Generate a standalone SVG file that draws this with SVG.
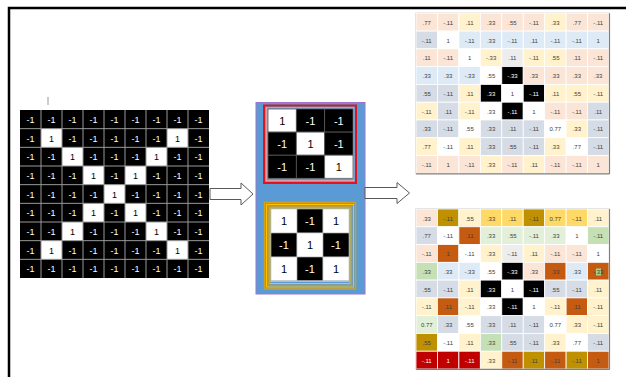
<svg xmlns="http://www.w3.org/2000/svg" width="626" height="377" viewBox="0 0 626 377">
<style>
text{font-family:"Liberation Sans",Arial,sans-serif;text-anchor:middle}
.lt{font-size:9px;fill:#fff}
.lb{font-size:9px;fill:#000}
.kt{font-size:11px;fill:#fff}
.kb{font-size:11px;fill:#000}
.rt{font-size:6px;fill:#404040}
.rw{font-size:6px;fill:#fff}
.cells rect{stroke:#fff;stroke-width:0.8;height:17.78px;width:21.44px}
.p{fill:#fbe5d6}.y{fill:#fff2cc}.b{fill:#deebf7}.g{fill:#d6dce5}.w{fill:#fff}.k{fill:#000}.l{fill:#ededed}
.d{fill:#bf9000}.o{fill:#ffd966}.r{fill:#c55a11}.n{fill:#e2f0d9}.m{fill:#c5e0b4}.c{fill:#c00000}
.arrow{fill:#fff;stroke:#595959;stroke-width:1}
</style>
<defs>
<g id="cols">
</g>
</defs>
<g id="frame">
<polyline points="9,377 9,8 626,8" fill="none" stroke="#000" stroke-width="2.5"/>
<line x1="48" y1="97" x2="48" y2="105" stroke="#999" stroke-width="1"/>
</g>

<g id="input-grid">
<rect x="20" y="110" width="189" height="168" fill="#000"/>
<g fill="#fff">
<rect x="41" y="128.67" width="21" height="18.67"/><rect x="167" y="128.67" width="21" height="18.67"/>
<rect x="62" y="147.33" width="21" height="18.67"/><rect x="146" y="147.33" width="21" height="18.67"/>
<rect x="83" y="166" width="21" height="18.67"/><rect x="125" y="166" width="21" height="18.67"/>
<rect x="104" y="184.67" width="21" height="18.67"/>
<rect x="83" y="203.33" width="21" height="18.67"/><rect x="125" y="203.33" width="21" height="18.67"/>
<rect x="62" y="222" width="21" height="18.67"/><rect x="146" y="222" width="21" height="18.67"/>
<rect x="41" y="240.67" width="21" height="18.67"/><rect x="167" y="240.67" width="21" height="18.67"/>
</g>
<path d="M41,110V278M62,110V278M83,110V278M104,110V278M125,110V278M146,110V278M167,110V278M188,110V278M20,128.67H209M20,147.33H209M20,166H209M20,184.67H209M20,203.33H209M20,222H209M20,240.67H209M20,259.33H209" stroke="#999" stroke-width="1" fill="none"/>
<g class="lt">
<text x="30.5" y="123">-1</text><text x="51.5" y="123">-1</text><text x="72.5" y="123">-1</text><text x="93.5" y="123">-1</text><text x="114.5" y="123">-1</text><text x="135.5" y="123">-1</text><text x="156.5" y="123">-1</text><text x="177.5" y="123">-1</text><text x="198.5" y="123">-1</text>
<text x="30.5" y="141.67">-1</text><text x="72.5" y="141.67">-1</text><text x="93.5" y="141.67">-1</text><text x="114.5" y="141.67">-1</text><text x="135.5" y="141.67">-1</text><text x="156.5" y="141.67">-1</text><text x="198.5" y="141.67">-1</text>
<text x="30.5" y="160.33">-1</text><text x="51.5" y="160.33">-1</text><text x="93.5" y="160.33">-1</text><text x="114.5" y="160.33">-1</text><text x="135.5" y="160.33">-1</text><text x="177.5" y="160.33">-1</text><text x="198.5" y="160.33">-1</text>
<text x="30.5" y="179">-1</text><text x="51.5" y="179">-1</text><text x="72.5" y="179">-1</text><text x="114.5" y="179">-1</text><text x="156.5" y="179">-1</text><text x="177.5" y="179">-1</text><text x="198.5" y="179">-1</text>
<text x="30.5" y="197.67">-1</text><text x="51.5" y="197.67">-1</text><text x="72.5" y="197.67">-1</text><text x="93.5" y="197.67">-1</text><text x="135.5" y="197.67">-1</text><text x="156.5" y="197.67">-1</text><text x="177.5" y="197.67">-1</text><text x="198.5" y="197.67">-1</text>
<text x="30.5" y="216.33">-1</text><text x="51.5" y="216.33">-1</text><text x="72.5" y="216.33">-1</text><text x="114.5" y="216.33">-1</text><text x="156.5" y="216.33">-1</text><text x="177.5" y="216.33">-1</text><text x="198.5" y="216.33">-1</text>
<text x="30.5" y="235">-1</text><text x="51.5" y="235">-1</text><text x="93.5" y="235">-1</text><text x="114.5" y="235">-1</text><text x="135.5" y="235">-1</text><text x="177.5" y="235">-1</text><text x="198.5" y="235">-1</text>
<text x="30.5" y="253.67">-1</text><text x="72.5" y="253.67">-1</text><text x="93.5" y="253.67">-1</text><text x="114.5" y="253.67">-1</text><text x="135.5" y="253.67">-1</text><text x="156.5" y="253.67">-1</text><text x="198.5" y="253.67">-1</text>
<text x="30.5" y="272.33">-1</text><text x="51.5" y="272.33">-1</text><text x="72.5" y="272.33">-1</text><text x="93.5" y="272.33">-1</text><text x="114.5" y="272.33">-1</text><text x="135.5" y="272.33">-1</text><text x="156.5" y="272.33">-1</text><text x="177.5" y="272.33">-1</text><text x="198.5" y="272.33">-1</text>
</g>
<g class="lb">
<text x="51.5" y="141.67">1</text><text x="177.5" y="141.67">1</text>
<text x="72.5" y="160.33">1</text><text x="156.5" y="160.33">1</text>
<text x="93.5" y="179">1</text><text x="135.5" y="179">1</text>
<text x="114.5" y="197.67">1</text>
<text x="93.5" y="216.33">1</text><text x="135.5" y="216.33">1</text>
<text x="72.5" y="235">1</text><text x="156.5" y="235">1</text>
<text x="51.5" y="253.67">1</text><text x="177.5" y="253.67">1</text>
</g>
</g>

<g id="filters">
<rect x="256" y="102.5" width="109" height="191.5" fill="#5b9bd5" stroke="#9e74c8" stroke-width="1"/>
<g id="filter-1">
<rect x="264" y="105.5" width="92" height="77.5" fill="none" stroke="#e0141e" stroke-width="2"/>
<rect x="266.3" y="107.8" width="87.4" height="72.9" fill="none" stroke="#f4a0a8" stroke-width="1"/>
<rect x="267.5" y="109" width="85.5" height="70" fill="#9dc3e6"/>
<g stroke="#595959" stroke-width="0.8">
<rect x="268" y="109" width="28.33" height="23.1" fill="#fff"/><rect x="296.33" y="109" width="28.33" height="23.1" fill="#000"/><rect x="324.67" y="109" width="28.33" height="23.1" fill="#000"/>
<rect x="268" y="132.1" width="28.33" height="23.1" fill="#000"/><rect x="296.33" y="132.1" width="28.33" height="23.1" fill="#fff"/><rect x="324.67" y="132.1" width="28.33" height="23.1" fill="#000"/>
<rect x="268" y="155.2" width="28.33" height="23.1" fill="#000"/><rect x="296.33" y="155.2" width="28.33" height="23.1" fill="#000"/><rect x="324.67" y="155.2" width="28.33" height="23.1" fill="#fff"/>
</g>
<text class="kb" x="282.2" y="125">1</text><text class="kt" x="310.5" y="125">-1</text><text class="kt" x="338.8" y="125">-1</text>
<text class="kt" x="282.2" y="148.1">-1</text><text class="kb" x="310.5" y="148.1">1</text><text class="kt" x="338.8" y="148.1">-1</text>
<text class="kt" x="282.2" y="171.2">-1</text><text class="kt" x="310.5" y="171.2">-1</text><text class="kb" x="338.8" y="171.2">1</text>
</g>
<g id="filter-2">
<g fill="none" stroke-width="1">
<rect x="264.5" y="202.5" width="91" height="86.5" stroke="#d4a017" stroke-width="1.5"/>
<rect x="266.5" y="204.5" width="87" height="82.5" stroke="#ffc000"/>
<rect x="268.3" y="206.3" width="83.4" height="78.9" stroke="#d4a017"/>
<rect x="270" y="208" width="80" height="75.5" stroke="#ffc000"/>
</g>
<rect x="271" y="209" width="78" height="73" fill="#9dc3e6"/>
<g stroke="#bfbfbf" stroke-width="0.6">
<rect x="271" y="209" width="26" height="24" fill="#fff"/><rect x="297" y="209" width="26" height="24" fill="#000"/><rect x="323" y="209" width="26" height="24" fill="#fff"/>
<rect x="271" y="233" width="26" height="24" fill="#000"/><rect x="297" y="233" width="26" height="24" fill="#fff"/><rect x="323" y="233" width="26" height="24" fill="#000"/>
<rect x="271" y="257" width="26" height="23.5" fill="#fff"/><rect x="297" y="257" width="26" height="23.5" fill="#000"/><rect x="323" y="257" width="26" height="23.5" fill="#fff"/>
</g>
<text class="kb" x="284" y="225">1</text><text class="kt" x="310" y="225">-1</text><text class="kb" x="336" y="225">1</text>
<text class="kt" x="284" y="249">-1</text><text class="kb" x="310" y="249">1</text><text class="kt" x="336" y="249">-1</text>
<text class="kb" x="284" y="273">1</text><text class="kt" x="310" y="273">-1</text><text class="kb" x="336" y="273">1</text>
</g>
</g>

<g id="connectors">
<polygon class="arrow" points="210,188.5 241,188.5 241,183 253,194 241,205 241,199.5 210,199.5"/>
<polygon class="arrow" points="365,187.5 397,187.5 397,182.5 409.5,193 397,203.5 397,198.5 365,198.5"/>
</g>

<g id="feature-map-1">
<rect x="416" y="13.3" width="193" height="160" fill="#fff" stroke="#a6a6a6" stroke-width="1"/>
<g class="cells">
<g transform="translate(0,13.3)"><rect x="416" class="p"/><rect x="437.44" class="p"/><rect x="458.89" class="y"/><rect x="480.33" class="p"/><rect x="501.78" class="p"/><rect x="523.22" class="p"/><rect x="544.67" class="y"/><rect x="566.11" class="p"/><rect x="587.56" class="p"/></g>
<g transform="translate(0,31.08)"><rect x="416" class="g"/><rect x="437.44" class="w"/><rect x="458.89" class="b"/><rect x="480.33" class="b"/><rect x="501.78" class="b"/><rect x="523.22" class="b"/><rect x="544.67" class="b"/><rect x="566.11" class="b"/><rect x="587.56" class="b"/></g>
<g transform="translate(0,48.86)"><rect x="416" class="p"/><rect x="437.44" class="p"/><rect x="458.89" class="w"/><rect x="480.33" class="y"/><rect x="501.78" class="l"/><rect x="523.22" class="y"/><rect x="544.67" class="y"/><rect x="566.11" class="p"/><rect x="587.56" class="p"/></g>
<g transform="translate(0,66.63)"><rect x="416" class="b"/><rect x="437.44" class="b"/><rect x="458.89" class="b"/><rect x="480.33" class="w"/><rect x="501.78" class="k"/><rect x="523.22" class="p"/><rect x="544.67" class="p"/><rect x="566.11" class="p"/><rect x="587.56" class="p"/></g>
<g transform="translate(0,84.41)"><rect x="416" class="g"/><rect x="437.44" class="g"/><rect x="458.89" class="y"/><rect x="480.33" class="k"/><rect x="501.78" class="w"/><rect x="523.22" class="k"/><rect x="544.67" class="y"/><rect x="566.11" class="y"/><rect x="587.56" class="y"/></g>
<g transform="translate(0,102.19)"><rect x="416" class="y"/><rect x="437.44" class="g"/><rect x="458.89" class="y"/><rect x="480.33" class="w"/><rect x="501.78" class="k"/><rect x="523.22" class="w"/><rect x="544.67" class="p"/><rect x="566.11" class="p"/><rect x="587.56" class="g"/></g>
<g transform="translate(0,119.97)"><rect x="416" class="g"/><rect x="437.44" class="g"/><rect x="458.89" class="w"/><rect x="480.33" class="g"/><rect x="501.78" class="g"/><rect x="523.22" class="g"/><rect x="544.67" class="w"/><rect x="566.11" class="y"/><rect x="587.56" class="g"/></g>
<g transform="translate(0,137.74)"><rect x="416" class="y"/><rect x="437.44" class="w"/><rect x="458.89" class="y"/><rect x="480.33" class="g"/><rect x="501.78" class="g"/><rect x="523.22" class="g"/><rect x="544.67" class="y"/><rect x="566.11" class="w"/><rect x="587.56" class="g"/></g>
<g transform="translate(0,155.52)"><rect x="416" class="p"/><rect x="437.44" class="p"/><rect x="458.89" class="p"/><rect x="480.33" class="y"/><rect x="501.78" class="p"/><rect x="523.22" class="y"/><rect x="544.67" class="p"/><rect x="566.11" class="p"/><rect x="587.56" class="p"/></g>
</g>
<path d="M609.5,13.3V174M416,173.8H609.5" stroke="#808080" stroke-width="1.2" fill="none"/>
<g class="rt">
<g transform="translate(0,24.8)"><text x="426.72">.77</text><text x="448.17">-.11</text><text x="469.61">.11</text><text x="491.06">.33</text><text x="512.5">.55</text><text x="533.94">-.11</text><text x="555.39">.33</text><text x="576.83">.77</text><text x="598.28">-.11</text></g>
<g transform="translate(0,42.58)"><text x="426.72">-.11</text><text x="448.17">1</text><text x="469.61">-.11</text><text x="491.06">.33</text><text x="512.5">-.11</text><text x="533.94">.11</text><text x="555.39">-.11</text><text x="576.83">-.11</text><text x="598.28">1</text></g>
<g transform="translate(0,60.36)"><text x="426.72">.11</text><text x="448.17">-.11</text><text x="469.61">1</text><text x="491.06">-.33</text><text x="512.5">.11</text><text x="533.94">-.11</text><text x="555.39">.55</text><text x="576.83">.11</text><text x="598.28">-.11</text></g>
<g transform="translate(0,78.13)"><text x="426.72">.33</text><text x="448.17">.33</text><text x="469.61">-.33</text><text x="491.06">.55</text><text class="rw" x="512.5">-.33</text><text x="533.94">.33</text><text x="555.39">.33</text><text x="576.83">.33</text><text x="598.28">.33</text></g>
<g transform="translate(0,95.91)"><text x="426.72">.55</text><text x="448.17">-.11</text><text x="469.61">.11</text><text class="rw" x="491.06">.33</text><text x="512.5">1</text><text class="rw" x="533.94">-.11</text><text x="555.39">.11</text><text x="576.83">.55</text><text x="598.28">-.11</text></g>
<g transform="translate(0,113.69)"><text x="426.72">-.11</text><text x="448.17">.11</text><text x="469.61">-.11</text><text x="491.06">.33</text><text class="rw" x="512.5">-.11</text><text x="533.94">1</text><text x="555.39">-.11</text><text x="576.83">-.11</text><text x="598.28">.11</text></g>
<g transform="translate(0,131.47)"><text x="426.72">.33</text><text x="448.17">-.11</text><text x="469.61">.55</text><text x="491.06">.33</text><text x="512.5">.11</text><text x="533.94">-.11</text><text x="555.39">0.77</text><text x="576.83">.33</text><text x="598.28">-.11</text></g>
<g transform="translate(0,149.24)"><text x="426.72">.77</text><text x="448.17">-.11</text><text x="469.61">.11</text><text x="491.06">.33</text><text x="512.5">.55</text><text x="533.94">-.11</text><text x="555.39">.33</text><text x="576.83">.77</text><text x="598.28">-.11</text></g>
<g transform="translate(0,167.02)"><text x="426.72">-.11</text><text x="448.17">1</text><text x="469.61">-.11</text><text x="491.06">.33</text><text x="512.5">-.11</text><text x="533.94">.11</text><text x="555.39">-.11</text><text x="576.83">-.11</text><text x="598.28">1</text></g>
</g>
</g>

<g id="feature-map-2">
<rect x="416" y="209" width="193" height="160" fill="#fff" stroke="#a6a6a6" stroke-width="1"/>
<g class="cells">
<g transform="translate(0,209)"><rect x="416" class="p"/><rect x="437.44" class="d"/><rect x="458.89" class="y"/><rect x="480.33" class="o"/><rect x="501.78" class="o"/><rect x="523.22" class="d"/><rect x="544.67" class="o"/><rect x="566.11" class="o"/><rect x="587.56" class="y"/></g>
<g transform="translate(0,226.78)"><rect x="416" class="g"/><rect x="437.44" class="w"/><rect x="458.89" class="r"/><rect x="480.33" class="n"/><rect x="501.78" class="n"/><rect x="523.22" class="n"/><rect x="544.67" class="n"/><rect x="566.11" class="w"/><rect x="587.56" class="m"/></g>
<g transform="translate(0,244.56)"><rect x="416" class="p"/><rect x="437.44" class="r"/><rect x="458.89" class="w"/><rect x="480.33" class="y"/><rect x="501.78" class="l"/><rect x="523.22" class="y"/><rect x="544.67" class="p"/><rect x="566.11" class="p"/><rect x="587.56" class="w"/></g>
<g transform="translate(0,262.33)"><rect x="416" class="m"/><rect x="437.44" class="b"/><rect x="458.89" class="b"/><rect x="480.33" class="w"/><rect x="501.78" class="k"/><rect x="523.22" class="p"/><rect x="544.67" class="r"/><rect x="566.11" class="b"/><rect x="587.56" class="r"/></g>
<g transform="translate(0,280.11)"><rect x="416" class="g"/><rect x="437.44" class="g"/><rect x="458.89" class="y"/><rect x="480.33" class="k"/><rect x="501.78" class="w"/><rect x="523.22" class="k"/><rect x="544.67" class="g"/><rect x="566.11" class="g"/><rect x="587.56" class="y"/></g>
<g transform="translate(0,297.89)"><rect x="416" class="y"/><rect x="437.44" class="r"/><rect x="458.89" class="y"/><rect x="480.33" class="w"/><rect x="501.78" class="k"/><rect x="523.22" class="w"/><rect x="544.67" class="y"/><rect x="566.11" class="r"/><rect x="587.56" class="y"/></g>
<g transform="translate(0,315.67)"><rect x="416" class="n"/><rect x="437.44" class="g"/><rect x="458.89" class="w"/><rect x="480.33" class="g"/><rect x="501.78" class="g"/><rect x="523.22" class="g"/><rect x="544.67" class="w"/><rect x="566.11" class="y"/><rect x="587.56" class="y"/></g>
<g transform="translate(0,333.44)"><rect x="416" class="d"/><rect x="437.44" class="w"/><rect x="458.89" class="y"/><rect x="480.33" class="m"/><rect x="501.78" class="g"/><rect x="523.22" class="g"/><rect x="544.67" class="y"/><rect x="566.11" class="w"/><rect x="587.56" class="g"/></g>
<g transform="translate(0,351.22)"><rect x="416" class="c"/><rect x="437.44" class="c"/><rect x="458.89" class="c"/><rect x="480.33" class="y"/><rect x="501.78" class="r"/><rect x="523.22" class="d"/><rect x="544.67" class="r"/><rect x="566.11" class="d"/><rect x="587.56" class="r"/></g>
</g>
<rect x="596" y="268.5" width="5" height="7" fill="#a9d18e"/>
<path d="M609.5,209V369.5M416,369.3H609.5" stroke="#808080" stroke-width="1.2" fill="none"/>
<g class="rt">
<g transform="translate(0,220.5)"><text x="426.72">.33</text><text x="448.17">-.11</text><text x="469.61">.55</text><text x="491.06">.33</text><text x="512.5">.11</text><text x="533.94">-.11</text><text x="555.39">0.77</text><text x="576.83">-.11</text><text x="598.28">.11</text></g>
<g transform="translate(0,238.28)"><text x="426.72">.77</text><text x="448.17">-.11</text><text x="469.61">.11</text><text x="491.06">.33</text><text x="512.5">.55</text><text x="533.94">-.11</text><text x="555.39">.33</text><text x="576.83">1</text><text x="598.28">-.11</text></g>
<g transform="translate(0,256.06)"><text x="426.72">-.11</text><text x="448.17">1</text><text x="469.61">-.11</text><text x="491.06">.33</text><text x="512.5">-.11</text><text x="533.94">.11</text><text x="555.39">-.11</text><text x="576.83">-.11</text><text x="598.28">1</text></g>
<g transform="translate(0,273.83)"><text x="426.72">.33</text><text x="448.17">.33</text><text x="469.61">-.33</text><text x="491.06">.55</text><text class="rw" x="512.5">-.33</text><text x="533.94">.33</text><text x="555.39">.33</text><text x="576.83">.33</text><text x="598.28">-.33</text></g>
<g transform="translate(0,291.61)"><text x="426.72">.55</text><text x="448.17">-.11</text><text x="469.61">.11</text><text class="rw" x="491.06">.33</text><text x="512.5">1</text><text class="rw" x="533.94">-.11</text><text x="555.39">.55</text><text x="576.83">-.11</text><text x="598.28">.11</text></g>
<g transform="translate(0,309.39)"><text x="426.72">-.11</text><text x="448.17">.11</text><text x="469.61">-.11</text><text x="491.06">.33</text><text class="rw" x="512.5">-.11</text><text x="533.94">1</text><text x="555.39">-.11</text><text x="576.83">.11</text><text x="598.28">-.11</text></g>
<g transform="translate(0,327.17)"><text x="426.72">0.77</text><text x="448.17">.33</text><text x="469.61">.55</text><text x="491.06">.33</text><text x="512.5">.11</text><text x="533.94">-.11</text><text x="555.39">0.77</text><text x="576.83">.33</text><text x="598.28">-.11</text></g>
<g transform="translate(0,344.94)"><text x="426.72">.55</text><text x="448.17">-.11</text><text x="469.61">.11</text><text x="491.06">.33</text><text x="512.5">.55</text><text x="533.94">-.11</text><text x="555.39">.33</text><text x="576.83">.77</text><text x="598.28">-.11</text></g>
<g transform="translate(0,362.72)"><text class="rw" x="426.72">-.11</text><text class="rw" x="448.17">1</text><text class="rw" x="469.61">-.11</text><text x="491.06">.33</text><text x="512.5">-.11</text><text x="533.94">.11</text><text x="555.39">-.11</text><text x="576.83">-.11</text><text x="598.28">1</text></g>
</g>
</g>
</svg>
